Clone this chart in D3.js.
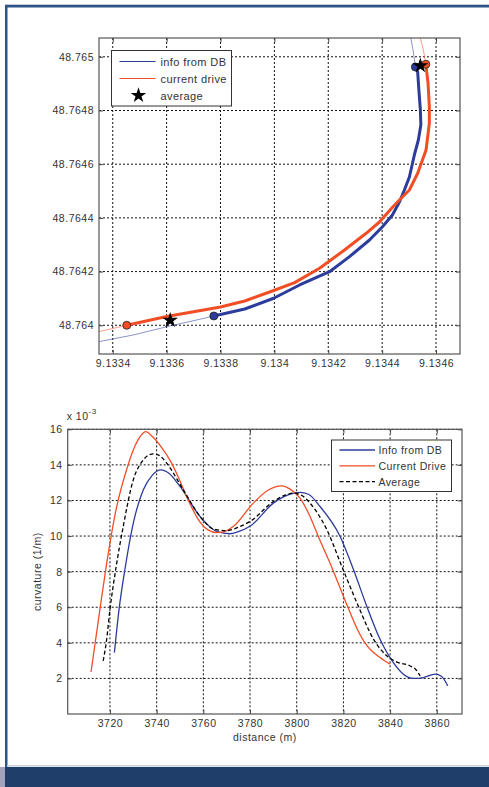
<!DOCTYPE html>
<html>
<head>
<meta charset="utf-8">
<script src="https://cdn.jsdelivr.net/npm/d3@7"></script>
<style>
  body { margin: 0; background: #fff; }
  svg { display: block; font-family: "Liberation Sans", Arial, sans-serif; }
</style>
</head>
<body>
<svg id="fig" width="489" height="787"></svg>
<script>
// ---- top chart: GPS traces (longitude, latitude) ----
const dbLon = [9.1333159, 9.1333481, 9.1334763, 9.1336122, 9.1337233, 9.1337752, 9.13389, 9.1339974,
  9.1340937, 9.1342048, 9.1342789, 9.134353, 9.1344011, 9.1344381, 9.1344641, 9.1344826, 9.1345011,
  9.1345196, 9.1345344, 9.1345437, 9.1345419, 9.1345363, 9.1345319, 9.1345233, 9.1345159, 9.1345011];
const dbLat = [48.7639326, 48.7639389, 48.7639639, 48.7639974, 48.7640223, 48.7640346, 48.7640607, 48.7641006,
  48.7641501, 48.7641996, 48.7642555, 48.7643177, 48.7643672, 48.7644108, 48.7644592, 48.7645039, 48.7645523,
  48.7646343, 48.7646901, 48.764746, 48.7648019, 48.7648764, 48.7649434, 48.764962, 48.7650179, 48.7651];
const dbSeg = [5, 23]; // thick part of the trace (first, last index)

const driveLon = [9.1333159, 9.1334519, 9.1336, 9.1338, 9.13389, 9.1339974, 9.1340752, 9.1341678,
  9.1342604, 9.1343407, 9.13439, 9.1344393, 9.1344641, 9.1345011, 9.1345319, 9.134563, 9.1345752,
  9.1345752, 9.1345704, 9.1345622, 9.134553, 9.1345341];
const driveLat = [48.7639687, 48.764, 48.7640328, 48.7640682, 48.7640905, 48.7641296, 48.7641587, 48.7642123,
  48.7642804, 48.7643426, 48.7643847, 48.7644406, 48.7644667, 48.7645039, 48.7645661, 48.7646529, 48.7647523,
  48.7648142, 48.7649013, 48.7649721, 48.7650253, 48.7650998];
const driveSeg = [1, 19];

const avgLon = [9.1336133, 9.1345419];
const avgLat = [48.7640186, 48.7649669];

const lonTicks = [9.1334, 9.1336, 9.1338, 9.134, 9.1342, 9.1344, 9.1346];
const latTicks = [48.764, 48.7642, 48.7644, 48.7646, 48.7648, 48.765];

// ---- bottom chart: curvature (x 10^-3 1/m) vs distance (m) ----
const distDB = [3721.9, 3723.9, 3726.4, 3730, 3734.3, 3738, 3741.9, 3745.5, 3750, 3758.6, 3765.7, 3771.4,
  3775, 3780, 3790, 3796, 3801.4, 3805, 3810, 3818.6, 3824.3, 3830, 3835.7, 3841.4, 3845.7, 3850, 3854.3,
  3859.3, 3862.1, 3864.7];
const curvDB = [3.45, 5.88, 8.12, 10.73, 12.6, 13.4, 13.72, 13.5, 12.79, 11.1, 10.26, 10.13,
  10.25, 10.55, 11.85, 12.3, 12.45, 12.35, 11.66, 9.98, 8.12, 6.06, 4.2, 2.89, 2.24, 2.0, 2.05,
  2.24, 2.11, 1.58];

const distDrive = [3711.9, 3715.7, 3718.4, 3722.9, 3727.1, 3730, 3733, 3735.3, 3738.5, 3742, 3746, 3750,
  3752.9, 3758.9, 3762, 3765.7, 3769, 3772.9, 3781.4, 3788, 3793.6, 3797, 3801.4, 3805, 3810, 3815,
  3821, 3826, 3830, 3835.7, 3840];
const curvDrive = [2.36, 5.88, 8.3, 11.66, 13.72, 14.84, 15.6, 15.87, 15.55, 15.0, 14.2, 13.1,
  12.2, 10.73, 10.35, 10.2, 10.25, 10.55, 11.85, 12.6, 12.82, 12.65, 12.13, 11.3, 9.75, 8.25,
  6.3, 4.75, 3.85, 3.17, 2.8];

const distAvg = [3717.1, 3718.6, 3720, 3721.5, 3722.8, 3725.7, 3730, 3734.3, 3736.5, 3739, 3741.5, 3744.3,
  3751.4, 3758.6, 3764.3, 3770, 3775, 3780, 3790, 3795, 3798.6, 3802, 3805.7, 3812.9, 3819.6, 3826.4,
  3832.9, 3838.6, 3842.9, 3848.6, 3851, 3852.9];
const curvAvg = [2.98, 4.2, 5.88, 7.3, 8.4, 10.55, 13.16, 14.28, 14.55, 14.62, 14.5, 14.1,
  12.6, 11.1, 10.4, 10.3, 10.5, 10.82, 11.94, 12.3, 12.41, 12.3, 11.85, 10.36, 8.2, 6.06,
  4.2, 3.27, 2.92, 2.7, 2.5, 2.14];

const distTicks = [3720, 3740, 3760, 3780, 3800, 3820, 3840, 3860];
const curvTicks = [2, 4, 6, 8, 10, 12, 14, 16];

const BLUE = "#2c3c9c";
const RED = "#f24e26";

const svg = d3.select("#fig");

// page frame
svg.append("rect").attr("x", 0).attr("y", 0).attr("width", 489).attr("height", 787).attr("fill", "#fff");
svg.append("rect").attr("x", 5).attr("y", 4).attr("width", 484).attr("height", 1).attr("fill", "#c3ccd8");
svg.append("rect").attr("x", 5).attr("y", 5).attr("width", 484).attr("height", 2.5).attr("fill", "#2f5389");
svg.append("rect").attr("x", 5).attr("y", 5).attr("width", 2.5).attr("height", 762).attr("fill", "#2f5389");
svg.append("rect").attr("x", 7).attr("y", 765).attr("width", 482).attr("height", 1.5).attr("fill", "#c8d0dc");
svg.append("rect").attr("x", 5).attr("y", 767).attr("width", 484).attr("height", 20).attr("fill", "#1f3e6a");
svg.append("rect").attr("x", 0).attr("y", 767).attr("width", 5).attr("height", 20).attr("fill", "#a3a3bd");

function gridAndBox(g, x, y, xt, yt, w, h) {
  g.append("g").selectAll("line").data(xt).join("line")
    .attr("x1", d => x(d)).attr("x2", d => x(d)).attr("y1", 0).attr("y2", h)
    .attr("stroke", "#111").attr("stroke-width", 1).attr("stroke-dasharray", "2,2");
  g.append("g").selectAll("line").data(yt).join("line")
    .attr("y1", d => y(d)).attr("y2", d => y(d)).attr("x1", 0).attr("x2", w)
    .attr("stroke", "#111").attr("stroke-width", 1).attr("stroke-dasharray", "2,2");
}

function axes(g, x, y, xt, yt, w, h, fmt) {
  const style = a => {
    a.select(".domain").remove();
    a.selectAll("line").attr("stroke", "#444");
    a.selectAll("text").attr("fill", "#333").attr("font-size", 10.5).attr("letter-spacing", "0.5px");
  };
  g.append("g").attr("transform", `translate(0,${h})`)
    .call(d3.axisBottom(x).tickValues(xt).tickSize(-4).tickPadding(6).tickFormat(fmt.x)).call(style);
  g.append("g")
    .call(d3.axisTop(x).tickValues(xt).tickSize(-4).tickFormat("")).call(style);
  g.append("g")
    .call(d3.axisLeft(y).tickValues(yt).tickSize(-4).tickPadding(5).tickFormat(fmt.y)).call(style);
  g.append("g").attr("transform", `translate(${w},0)`)
    .call(d3.axisRight(y).tickValues(yt).tickSize(-4).tickFormat("")).call(style);
  g.append("rect").attr("width", w).attr("height", h)
    .attr("fill", "none").attr("stroke", "#555").attr("stroke-width", 1.2);
}

// ---------- top chart ----------
{
  const L = 99, T = 38, W = 361, H = 316;
  const x = d3.scaleLinear().domain([9.133349, 9.134689]).range([0, W]);
  const y = d3.scaleLinear().domain([48.763893, 48.76507]).range([H, 0]);
  const g = svg.append("g").attr("transform", `translate(${L},${T})`);
  g.append("clipPath").attr("id", "clipTop").append("rect").attr("width", W).attr("height", H);

  gridAndBox(g, x, y, lonTicks, latTicks, W, H);

  const line = d3.line().x(d => x(d[0])).y(d => y(d[1]));
  const pts = (lon, lat) => lon.map((v, i) => [v, lat[i]]);
  const db = pts(dbLon, dbLat);
  const drive = pts(driveLon, driveLat);
  const data = g.append("g").attr("clip-path", "url(#clipTop)");

  [[db, dbSeg, BLUE], [drive, driveSeg, RED]].forEach(([p, seg, c]) => {
    data.append("path").attr("d", line(p)).attr("fill", "none")
      .attr("stroke", c).attr("stroke-width", 1).attr("opacity", 0.55);
    data.append("path").attr("d", line(p.slice(seg[0], seg[1] + 1))).attr("fill", "none")
      .attr("stroke", c).attr("stroke-width", 3).attr("stroke-linejoin", "round");
  });
  [[db, dbSeg, BLUE], [drive, driveSeg, RED]].forEach(([p, seg, c]) => {
    data.selectAll(null).data([p[seg[0]], p[seg[1]]]).join("circle")
      .attr("cx", d => x(d[0])).attr("cy", d => y(d[1])).attr("r", 4)
      .attr("fill", c).attr("stroke", "#222").attr("stroke-width", 0.8);
  });
  const star = d3.symbol().type(d3.symbolStar).size(75);
  data.selectAll(null).data(avgLon.map((v, i) => [v, avgLat[i]])).join("path")
    .attr("d", star).attr("transform", d => `translate(${x(d[0])},${y(d[1])})`).attr("fill", "#000");

  axes(g, x, y, lonTicks, latTicks, W, H, {
    x: d => String(+d.toFixed(4)), y: d => String(+d.toFixed(4))
  });

  // legend
  const lg = svg.append("g").attr("transform", "translate(111.5,50.5)");
  lg.append("rect").attr("width", 120).attr("height", 55.5).attr("fill", "#fff")
    .attr("stroke", "#333").attr("stroke-width", 1);
  const items = [["info from DB", BLUE, "line"], ["current drive", RED, "line"], ["average", "#000", "star"]];
  items.forEach((it, i) => {
    const yy = 11 + i * 17;
    if (it[2] === "line") {
      lg.append("line").attr("x1", 8).attr("x2", 44).attr("y1", yy).attr("y2", yy)
        .attr("stroke", it[1]).attr("stroke-width", 1.1);
    } else {
      lg.append("path").attr("d", star).attr("transform", `translate(27,${yy})`).attr("fill", "#000");
    }
    lg.append("text").attr("x", 49).attr("y", yy + 4).attr("font-size", 11)
      .attr("letter-spacing", "0.4px").attr("fill", "#333").text(it[0]);
  });
}

// ---------- bottom chart ----------
{
  const L = 67.7, T = 429.3, W = 394.3, H = 284.7;
  const x = d3.scaleLinear().domain([3701.9, 3870.8]).range([0, W]);
  const y = d3.scaleLinear().domain([0, 16]).range([H, 0]);
  const g = svg.append("g").attr("transform", `translate(${L},${T})`);

  gridAndBox(g, x, y, distTicks, curvTicks, W, H);

  const line = d3.line().x(d => x(d[0])).y(d => y(d[1])).curve(d3.curveMonotoneX);
  const series = [
    [distDB, curvDB, BLUE, null],
    [distDrive, curvDrive, RED, null],
    [distAvg, curvAvg, "#000", "4,2.5"]
  ];
  series.forEach(([xs, ys, c, dash]) => {
    g.append("path").attr("d", line(xs.map((v, i) => [v, ys[i]])))
      .attr("fill", "none").attr("stroke", c).attr("stroke-width", 1.3)
      .attr("stroke-dasharray", dash);
  });

  axes(g, x, y, distTicks, curvTicks, W, H, { x: d => String(d), y: d => String(d) });

  g.append("text").attr("x", -1).attr("y", -9).attr("font-size", 10.5).attr("fill", "#333")
    .attr("letter-spacing", "0.5px").text("x 10")
    .append("tspan").attr("dy", -6).attr("font-size", 8).text("-3");

  svg.append("text").attr("x", L + W / 2).attr("y", 741).attr("text-anchor", "middle")
    .attr("font-size", 10.5).attr("letter-spacing", "0.5px").attr("fill", "#333").text("distance (m)");
  svg.append("text").attr("transform", `translate(41,${T + H / 2}) rotate(-90)`)
    .attr("text-anchor", "middle").attr("font-size", 10.5).attr("letter-spacing", "0.5px")
    .attr("fill", "#333").text("curvature (1/m)");

  // legend
  const lg = svg.append("g").attr("transform", "translate(331.5,440)");
  lg.append("rect").attr("width", 120).attr("height", 51.5).attr("fill", "#fff")
    .attr("stroke", "#333").attr("stroke-width", 1);
  [["Info from DB", BLUE, null], ["Current Drive", RED, null], ["Average", "#000", "4,2.5"]]
    .forEach((it, i) => {
      const yy = 10 + i * 15.8;
      lg.append("line").attr("x1", 8).attr("x2", 43.5).attr("y1", yy).attr("y2", yy)
        .attr("stroke", it[1]).attr("stroke-width", 1.3).attr("stroke-dasharray", it[2]);
      lg.append("text").attr("x", 47).attr("y", yy + 4).attr("font-size", 10.5)
        .attr("letter-spacing", "0.4px").attr("fill", "#333").text(it[0]);
    });
}
</script>
</body>
</html>
